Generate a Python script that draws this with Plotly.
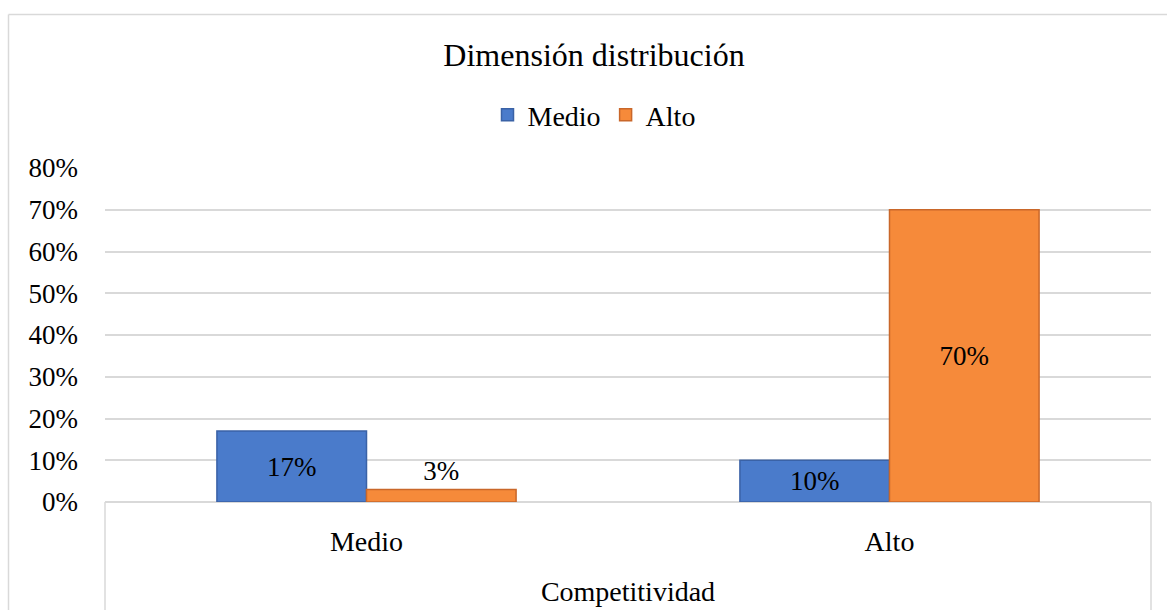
import plotly.graph_objects as go

categories = ["Medio", "Alto"]
series_names = ["Medio", "Alto"]
medio_values = [0.17, 0.10]
alto_values = [0.03, 0.70]
y_ticks = [0, 0.1, 0.2, 0.3, 0.4, 0.5, 0.6, 0.7, 0.8]
y_tick_labels = ["0%", "10%", "20%", "30%", "40%", "50%", "60%", "70%", "80%"]

FONT = "Liberation Serif, Times New Roman, serif"
W, H = 1167, 610
L, R, T, B = 105, 16, 168, 108
pw, ph = W - L - R, H - T - B


def px_to_paper_x(px):
    return (px - L) / pw


def px_to_paper_y(py):
    return (H - B - py) / ph


fig = go.Figure()
fig.add_trace(go.Bar(
    name=series_names[0], x=categories, y=medio_values,
    marker=dict(color="#4A7BCB", line=dict(color="#3A62A6", width=1.5)),
    text=[f"{v*100:.0f}%" for v in medio_values],
    textposition=["inside", "inside"], insidetextanchor="middle",
    textfont=dict(family=FONT, size=27, color="#000000"),
    constraintext="none", cliponaxis=False,
))
fig.add_trace(go.Bar(
    name=series_names[1], x=categories, y=alto_values,
    marker=dict(color="#F68A3A", line=dict(color="#C9672A", width=1.5)),
    text=[f"{v*100:.0f}%" for v in alto_values],
    textposition=["outside", "inside"], insidetextanchor="middle",
    textfont=dict(family=FONT, size=27, color="#000000"),
    constraintext="none", cliponaxis=False,
))

line_style = dict(color="#d9d9d9", width=1.5)
shapes = [
    dict(type="line", xref="paper", yref="paper", x0=0, x1=0, y0=0, y1=px_to_paper_y(H + 10), line=line_style),
    dict(type="line", xref="paper", yref="paper", x0=1, x1=1, y0=0, y1=px_to_paper_y(H + 10), line=line_style),
    dict(type="line", xref="paper", yref="paper", x0=px_to_paper_x(8.5), x1=px_to_paper_x(8.5),
         y0=px_to_paper_y(14.5), y1=px_to_paper_y(H + 10), line=line_style),
    dict(type="line", xref="paper", yref="paper", x0=px_to_paper_x(8.5), x1=px_to_paper_x(W + 10),
         y0=px_to_paper_y(14.5), y1=px_to_paper_y(14.5), line=line_style),
]

fig.update_layout(
    width=W, height=H,
    margin=dict(l=L, r=R, t=T, b=B, autoexpand=False),
    paper_bgcolor="white", plot_bgcolor="white",
    font=dict(family=FONT, size=27, color="#000000"),
    title=dict(text="Dimensión distribución", font=dict(family=FONT, size=32, color="#000000"),
               x=594 / W, xanchor="center", xref="container",
               y=1 - 55 / H, yanchor="middle", yref="container"),
    barmode="group", bargap=0.428, bargroupgap=0,
    showlegend=True,
    legend=dict(orientation="h", x=px_to_paper_x(594), xanchor="center",
                y=px_to_paper_y(115), yanchor="middle",
                font=dict(family=FONT, size=28, color="#000000"),
                itemwidth=30, traceorder="normal"),
    shapes=shapes,
    xaxis=dict(type="category", showline=False, showgrid=False, ticks="",
               tickfont=dict(family=FONT, size=28), ticklabelstandoff=20,
               title=dict(text="Competitividad", font=dict(family=FONT, size=28), standoff=25)),
    yaxis=dict(range=[0, 0.8], tickvals=y_ticks, ticktext=y_tick_labels,
               showgrid=True, gridcolor="#d9d9d9", gridwidth=1.5,
               zeroline=True, zerolinecolor="#d9d9d9", zerolinewidth=1.5,
               showline=False, ticks="", ticklabelstandoff=26,
               tickfont=dict(family=FONT, size=27)),
)

fig.write_html("out.html")
